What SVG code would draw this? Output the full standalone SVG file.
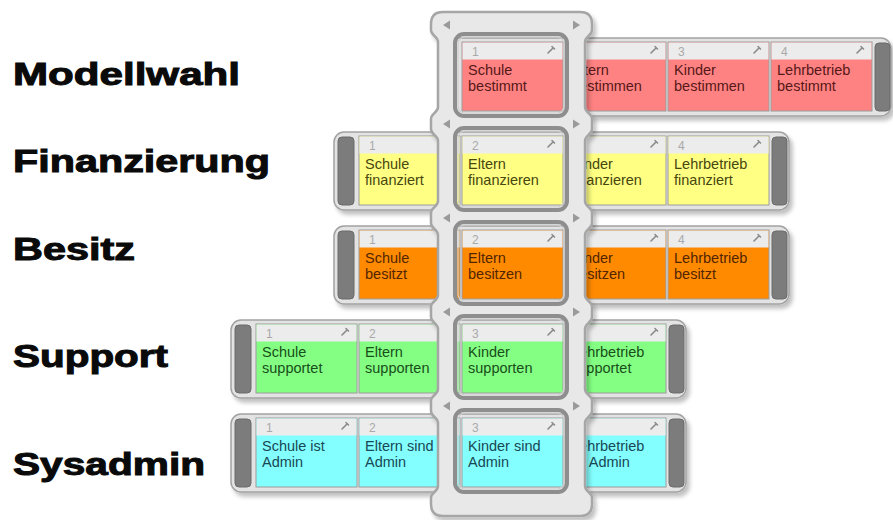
<svg xmlns="http://www.w3.org/2000/svg" xmlns:xlink="http://www.w3.org/1999/xlink" width="893" height="520" viewBox="0 0 893 520">
<defs>
<style>
.lbl{font-family:"Liberation Sans",Arial,sans-serif;font-weight:bold;font-size:31px;fill:#0a0a0a;stroke:#0a0a0a;stroke-width:1px}
.track{fill:#e3e3e3;stroke:#a2a2a2;stroke-width:1.5}
.cap{fill:#7c7c7c;stroke:#6a6a6a;stroke-width:1}
.body{stroke:#9c9c9c;stroke-width:1}
.hdr{fill:#ececec}
.num{font-family:"Liberation Sans",Arial,sans-serif;font-size:12px;fill:#a9a9a9}
.t{font-family:"Liberation Sans",Arial,sans-serif;font-size:14.5px}
.pk .body{fill:#ff8282}.pk .t{fill:#561818}
.ye .body{fill:#ffff84}.ye .t{fill:#47470e}
.or .body{fill:#ff8a00}.or .t{fill:#522500}
.gr .body{fill:#84ff84}.gr .t{fill:#184e18}
.cy .body{fill:#84ffff}.cy .t{fill:#184854}
.well{fill:#dcdcdc}
.win{fill:none;stroke:#8e8e8e;stroke-width:4}
.win2{fill:none;stroke:#cfcfcf;stroke-width:1.2}
.arr{fill:#9a9a9a}
</style>
<filter id="sh" x="-10%" y="-10%" width="125%" height="140%">
<feGaussianBlur in="SourceAlpha" stdDeviation="2"/>
<feOffset dx="3" dy="4"/>
<feComponentTransfer><feFuncA type="linear" slope="0.25"/></feComponentTransfer>
<feMerge><feMergeNode/><feMergeNode in="SourceGraphic"/></feMerge>
</filter>
<path id="pin" d="M0,7 L5,2 M4,0.5 L6.5,3" fill="none" stroke="#8a8a8a" stroke-width="1.6" stroke-linecap="round"/>
<mask id="holes" maskUnits="userSpaceOnUse" x="0" y="0" width="893" height="520">
<rect x="0" y="0" width="893" height="520" fill="#fff"/>
<rect x="455" y="34" width="112" height="82" rx="9" fill="#000"/>
<rect x="455" y="128" width="112" height="82" rx="9" fill="#000"/>
<rect x="455" y="222" width="112" height="82" rx="9" fill="#000"/>
<rect x="455" y="316" width="112" height="82" rx="9" fill="#000"/>
<rect x="455" y="410" width="112" height="82" rx="9" fill="#000"/>
</mask>
</defs>
<rect width="893" height="520" fill="#ffffff"/>

<g id="labels">
<text class="lbl" x="13" y="85" textLength="227" lengthAdjust="spacingAndGlyphs">Modellwahl</text>
<text class="lbl" x="13" y="172" textLength="257" lengthAdjust="spacingAndGlyphs">Finanzierung</text>
<text class="lbl" x="13" y="260" textLength="122" lengthAdjust="spacingAndGlyphs">Besitz</text>
<text class="lbl" x="13" y="367" textLength="155" lengthAdjust="spacingAndGlyphs">Support</text>
<text class="lbl" x="13" y="475" textLength="192" lengthAdjust="spacingAndGlyphs">Sysadmin</text>
</g>

<g id="wells">
<rect class="well" x="455" y="34" width="112" height="82" rx="9"/>
<rect class="well" x="455" y="128" width="112" height="82" rx="9"/>
<rect class="well" x="455" y="222" width="112" height="82" rx="9"/>
<rect class="well" x="455" y="316" width="112" height="82" rx="9"/>
<rect class="well" x="455" y="410" width="112" height="82" rx="9"/>
</g>

<g id="row-modellwahl" class="pk">
<rect class="track" x="440" y="38" width="451" height="78" rx="10" filter="url(#sh)"/>
<rect class="cap" x="875" y="43" width="15" height="68" rx="4"/>
<g id="r1c1" transform="translate(462,38)"><rect class="body" x="0" y="4" width="101" height="69"/><rect class="hdr" x="0.5" y="4.5" width="100" height="17"/><text class="num" x="10" y="18">1</text><use href="#pin" x="86" y="8"/><text class="t" x="6" y="37">Schule</text><text class="t" x="6" y="53">bestimmt</text></g>
<g id="r1c2" transform="translate(565,38)"><rect class="body" x="0" y="4" width="101" height="69"/><rect class="hdr" x="0.5" y="4.5" width="100" height="17"/><text class="num" x="10" y="18">2</text><use href="#pin" x="86" y="8"/><text class="t" x="6" y="37">Eltern</text><text class="t" x="6" y="53">bestimmen</text></g>
<g id="r1c3" transform="translate(668,38)"><rect class="body" x="0" y="4" width="101" height="69"/><rect class="hdr" x="0.5" y="4.5" width="100" height="17"/><text class="num" x="10" y="18">3</text><use href="#pin" x="86" y="8"/><text class="t" x="6" y="37">Kinder</text><text class="t" x="6" y="53">bestimmen</text></g>
<g id="r1c4" transform="translate(771,38)"><rect class="body" x="0" y="4" width="101" height="69"/><rect class="hdr" x="0.5" y="4.5" width="100" height="17"/><text class="num" x="10" y="18">4</text><use href="#pin" x="86" y="8"/><text class="t" x="6" y="37">Lehrbetrieb</text><text class="t" x="6" y="53">bestimmt</text></g>
</g>

<g id="row-finanzierung" class="ye">
<rect class="track" x="334" y="132" width="455" height="78" rx="10" filter="url(#sh)"/>
<rect class="cap" x="338" y="137" width="16" height="68" rx="4"/>
<rect class="cap" x="772" y="137" width="15" height="68" rx="4"/>
<g id="r2c1" transform="translate(359,132)"><rect class="body" x="0" y="4" width="101" height="69"/><rect class="hdr" x="0.5" y="4.5" width="100" height="17"/><text class="num" x="10" y="18">1</text><use href="#pin" x="86" y="8"/><text class="t" x="6" y="37">Schule</text><text class="t" x="6" y="53">finanziert</text></g>
<g id="r2c2" transform="translate(462,132)"><rect class="body" x="0" y="4" width="101" height="69"/><rect class="hdr" x="0.5" y="4.5" width="100" height="17"/><text class="num" x="10" y="18">2</text><use href="#pin" x="86" y="8"/><text class="t" x="6" y="37">Eltern</text><text class="t" x="6" y="53">finanzieren</text></g>
<g id="r2c3" transform="translate(565,132)"><rect class="body" x="0" y="4" width="101" height="69"/><rect class="hdr" x="0.5" y="4.5" width="100" height="17"/><text class="num" x="10" y="18">3</text><use href="#pin" x="86" y="8"/><text class="t" x="6" y="37">Kinder</text><text class="t" x="6" y="53">finanzieren</text></g>
<g id="r2c4" transform="translate(668,132)"><rect class="body" x="0" y="4" width="101" height="69"/><rect class="hdr" x="0.5" y="4.5" width="100" height="17"/><text class="num" x="10" y="18">4</text><use href="#pin" x="86" y="8"/><text class="t" x="6" y="37">Lehrbetrieb</text><text class="t" x="6" y="53">finanziert</text></g>
</g>

<g id="row-besitz" class="or">
<rect class="track" x="334" y="226" width="455" height="78" rx="10" filter="url(#sh)"/>
<rect class="cap" x="338" y="231" width="16" height="68" rx="4"/>
<rect class="cap" x="772" y="231" width="15" height="68" rx="4"/>
<g id="r3c1" transform="translate(359,226)"><rect class="body" x="0" y="4" width="101" height="69"/><rect class="hdr" x="0.5" y="4.5" width="100" height="17"/><text class="num" x="10" y="18">1</text><use href="#pin" x="86" y="8"/><text class="t" x="6" y="37">Schule</text><text class="t" x="6" y="53">besitzt</text></g>
<g id="r3c2" transform="translate(462,226)"><rect class="body" x="0" y="4" width="101" height="69"/><rect class="hdr" x="0.5" y="4.5" width="100" height="17"/><text class="num" x="10" y="18">2</text><use href="#pin" x="86" y="8"/><text class="t" x="6" y="37">Eltern</text><text class="t" x="6" y="53">besitzen</text></g>
<g id="r3c3" transform="translate(565,226)"><rect class="body" x="0" y="4" width="101" height="69"/><rect class="hdr" x="0.5" y="4.5" width="100" height="17"/><text class="num" x="10" y="18">3</text><use href="#pin" x="86" y="8"/><text class="t" x="6" y="37">Kinder</text><text class="t" x="6" y="53">besitzen</text></g>
<g id="r3c4" transform="translate(668,226)"><rect class="body" x="0" y="4" width="101" height="69"/><rect class="hdr" x="0.5" y="4.5" width="100" height="17"/><text class="num" x="10" y="18">4</text><use href="#pin" x="86" y="8"/><text class="t" x="6" y="37">Lehrbetrieb</text><text class="t" x="6" y="53">besitzt</text></g>
</g>

<g id="row-support" class="gr">
<rect class="track" x="231" y="320" width="455" height="78" rx="10" filter="url(#sh)"/>
<rect class="cap" x="235" y="325" width="16" height="68" rx="4"/>
<rect class="cap" x="669" y="325" width="15" height="68" rx="4"/>
<g id="r4c1" transform="translate(256,320)"><rect class="body" x="0" y="4" width="101" height="69"/><rect class="hdr" x="0.5" y="4.5" width="100" height="17"/><text class="num" x="10" y="18">1</text><use href="#pin" x="86" y="8"/><text class="t" x="6" y="37">Schule</text><text class="t" x="6" y="53">supportet</text></g>
<g id="r4c2" transform="translate(359,320)"><rect class="body" x="0" y="4" width="101" height="69"/><rect class="hdr" x="0.5" y="4.5" width="100" height="17"/><text class="num" x="10" y="18">2</text><use href="#pin" x="86" y="8"/><text class="t" x="6" y="37">Eltern</text><text class="t" x="6" y="53">supporten</text></g>
<g id="r4c3" transform="translate(462,320)"><rect class="body" x="0" y="4" width="101" height="69"/><rect class="hdr" x="0.5" y="4.5" width="100" height="17"/><text class="num" x="10" y="18">3</text><use href="#pin" x="86" y="8"/><text class="t" x="6" y="37">Kinder</text><text class="t" x="6" y="53">supporten</text></g>
<g id="r4c4" transform="translate(565,320)"><rect class="body" x="0" y="4" width="101" height="69"/><rect class="hdr" x="0.5" y="4.5" width="100" height="17"/><text class="num" x="10" y="18">4</text><use href="#pin" x="86" y="8"/><text class="t" x="6" y="37">Lehrbetrieb</text><text class="t" x="6" y="53">supportet</text></g>
</g>

<g id="row-sysadmin" class="cy">
<rect class="track" x="231" y="414" width="455" height="78" rx="10" filter="url(#sh)"/>
<rect class="cap" x="235" y="419" width="16" height="68" rx="4"/>
<rect class="cap" x="669" y="419" width="15" height="68" rx="4"/>
<g id="r5c1" transform="translate(256,414)"><rect class="body" x="0" y="4" width="101" height="69"/><rect class="hdr" x="0.5" y="4.5" width="100" height="17"/><text class="num" x="10" y="18">1</text><use href="#pin" x="86" y="8"/><text class="t" x="6" y="37">Schule ist</text><text class="t" x="6" y="53">Admin</text></g>
<g id="r5c2" transform="translate(359,414)"><rect class="body" x="0" y="4" width="101" height="69"/><rect class="hdr" x="0.5" y="4.5" width="100" height="17"/><text class="num" x="10" y="18">2</text><use href="#pin" x="86" y="8"/><text class="t" x="6" y="37">Eltern sind</text><text class="t" x="6" y="53">Admin</text></g>
<g id="r5c3" transform="translate(462,414)"><rect class="body" x="0" y="4" width="101" height="69"/><rect class="hdr" x="0.5" y="4.5" width="100" height="17"/><text class="num" x="10" y="18">3</text><use href="#pin" x="86" y="8"/><text class="t" x="6" y="37">Kinder sind</text><text class="t" x="6" y="53">Admin</text></g>
<g id="r5c4" transform="translate(565,414)"><rect class="body" x="0" y="4" width="101" height="69"/><rect class="hdr" x="0.5" y="4.5" width="100" height="17"/><text class="num" x="10" y="18">4</text><use href="#pin" x="86" y="8"/><text class="t" x="6" y="37">Lehrbetrieb</text><text class="t" x="6" y="53">ist Admin</text></g>
</g>

<g id="selector">
<g mask="url(#holes)">
<path filter="url(#sh)" fill="#e8e8e8" stroke="#a6a6a6" stroke-width="2.5" d="M431,24 Q431,12 443,12 H580 Q592,12 592,24 V30 C592,36 585,36 585,42 V107 C585,113 592,113 592,119 V129 C592,135 585,135 585,141 V201 C585,207 592,207 592,213 V223 C592,229 585,229 585,235 V295 C585,301 592,301 592,307 V317 C592,323 585,323 585,329 V389 C585,395 592,395 592,401 V411 C592,417 585,417 585,423 V486 C585,492 592,492 592,498 V504 Q592,516 580,516 H443 Q431,516 431,504 V498 C431,492 438,492 438,486 V423 C438,417 431,417 431,411 V401 C431,395 438,395 438,389 V329 C438,323 431,323 431,317 V307 C431,301 438,301 438,295 V235 C438,229 431,229 431,223 V213 C431,207 438,207 438,201 V141 C438,135 431,135 431,129 V119 C431,113 438,113 438,107 V42 C438,36 431,36 431,30 Z"/>
</g>
<rect class="win" x="455" y="34" width="112" height="82" rx="9"/><rect class="win2" x="458" y="37" width="106" height="76" rx="7"/>
<rect class="win" x="455" y="128" width="112" height="82" rx="9"/><rect class="win2" x="458" y="131" width="106" height="76" rx="7"/>
<rect class="win" x="455" y="222" width="112" height="82" rx="9"/><rect class="win2" x="458" y="225" width="106" height="76" rx="7"/>
<rect class="win" x="455" y="316" width="112" height="82" rx="9"/><rect class="win2" x="458" y="319" width="106" height="76" rx="7"/>
<rect class="win" x="455" y="410" width="112" height="82" rx="9"/><rect class="win2" x="458" y="413" width="106" height="76" rx="7"/>
<polygon class="arr" points="443,25 450,20.5 450,29.5"/><polygon class="arr" points="580,25 573,20.5 573,29.5"/>
<polygon class="arr" points="443,124 450,119.5 450,128.5"/><polygon class="arr" points="580,124 573,119.5 573,128.5"/>
<polygon class="arr" points="443,218 450,213.5 450,222.5"/><polygon class="arr" points="580,218 573,213.5 573,222.5"/>
<polygon class="arr" points="443,312 450,307.5 450,316.5"/><polygon class="arr" points="580,312 573,307.5 573,316.5"/>
<polygon class="arr" points="443,406 450,401.5 450,410.5"/><polygon class="arr" points="580,406 573,401.5 573,410.5"/>
</g>

<g id="connectors"/>
</svg>
